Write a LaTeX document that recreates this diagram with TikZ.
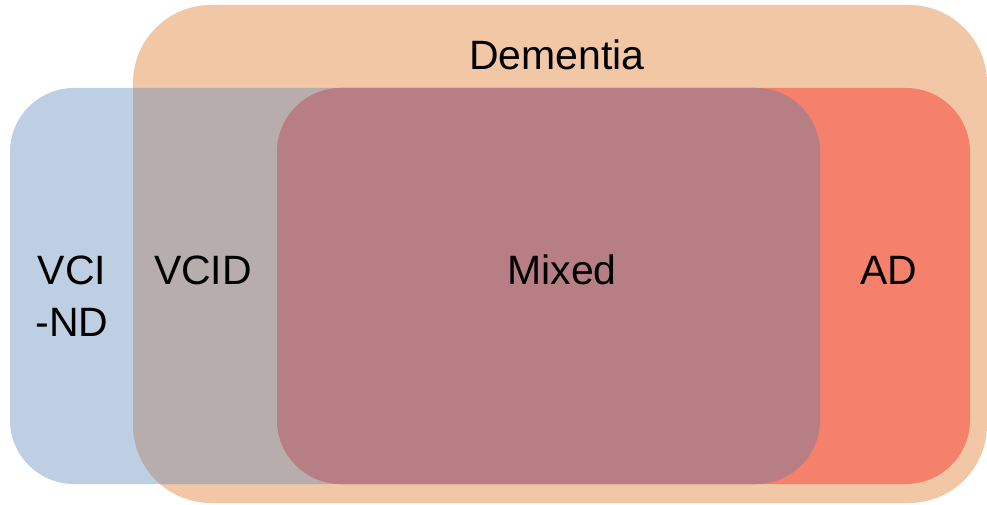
\documentclass[tikz,border=0pt]{standalone}
\usepackage{fontspec}
\setmainfont{Liberation Sans}
\definecolor{demc}{RGB}{242,199,166}
\definecolor{vcic}{RGB}{190,207,227}
\definecolor{vcidc}{RGB}{183,173,173}
\definecolor{adc}{RGB}{245,128,107}
\definecolor{mixc}{RGB}{184,126,133}
\tikzset{
  lbl/.style={font=\fontsize{41}{52}\selectfont, text=black, inner sep=0pt, align=center},
}
\begin{document}
\begin{tikzpicture}[x=1pt,y=1pt]
\useasboundingbox (0,0) rectangle (987,504);
% Dementia
\fill[demc, rounded corners=78pt] (133,1) rectangle (987,499);
% VCI
\fill[vcic, rounded corners=64pt] (10,20) rectangle (820,416);
% VCID = VCI within Dementia
\begin{scope}
  \clip[rounded corners=78pt] (133,1) rectangle (987,499);
  \fill[vcidc, rounded corners=64pt] (10,20) rectangle (820,416);
\end{scope}
% AD
\fill[adc, rounded corners=64pt] (277,20) rectangle (970,416);
% Mixed = VCI within AD
\begin{scope}
  \clip[rounded corners=64pt] (277,20) rectangle (970,416);
  \fill[mixc, rounded corners=64pt] (10,20) rectangle (820,416);
\end{scope}
\node[lbl] (dem) at (557,449) {Dementia};
\node[lbl] (vcind) at (72,208) {VCI\\-ND};
\node[lbl] (vcid) at (203,234) {VCID};
\node[lbl] (mixed) at (562,234) {Mixed};
\node[lbl] (ad) at (889,234) {AD};
\end{tikzpicture}
\end{document}
